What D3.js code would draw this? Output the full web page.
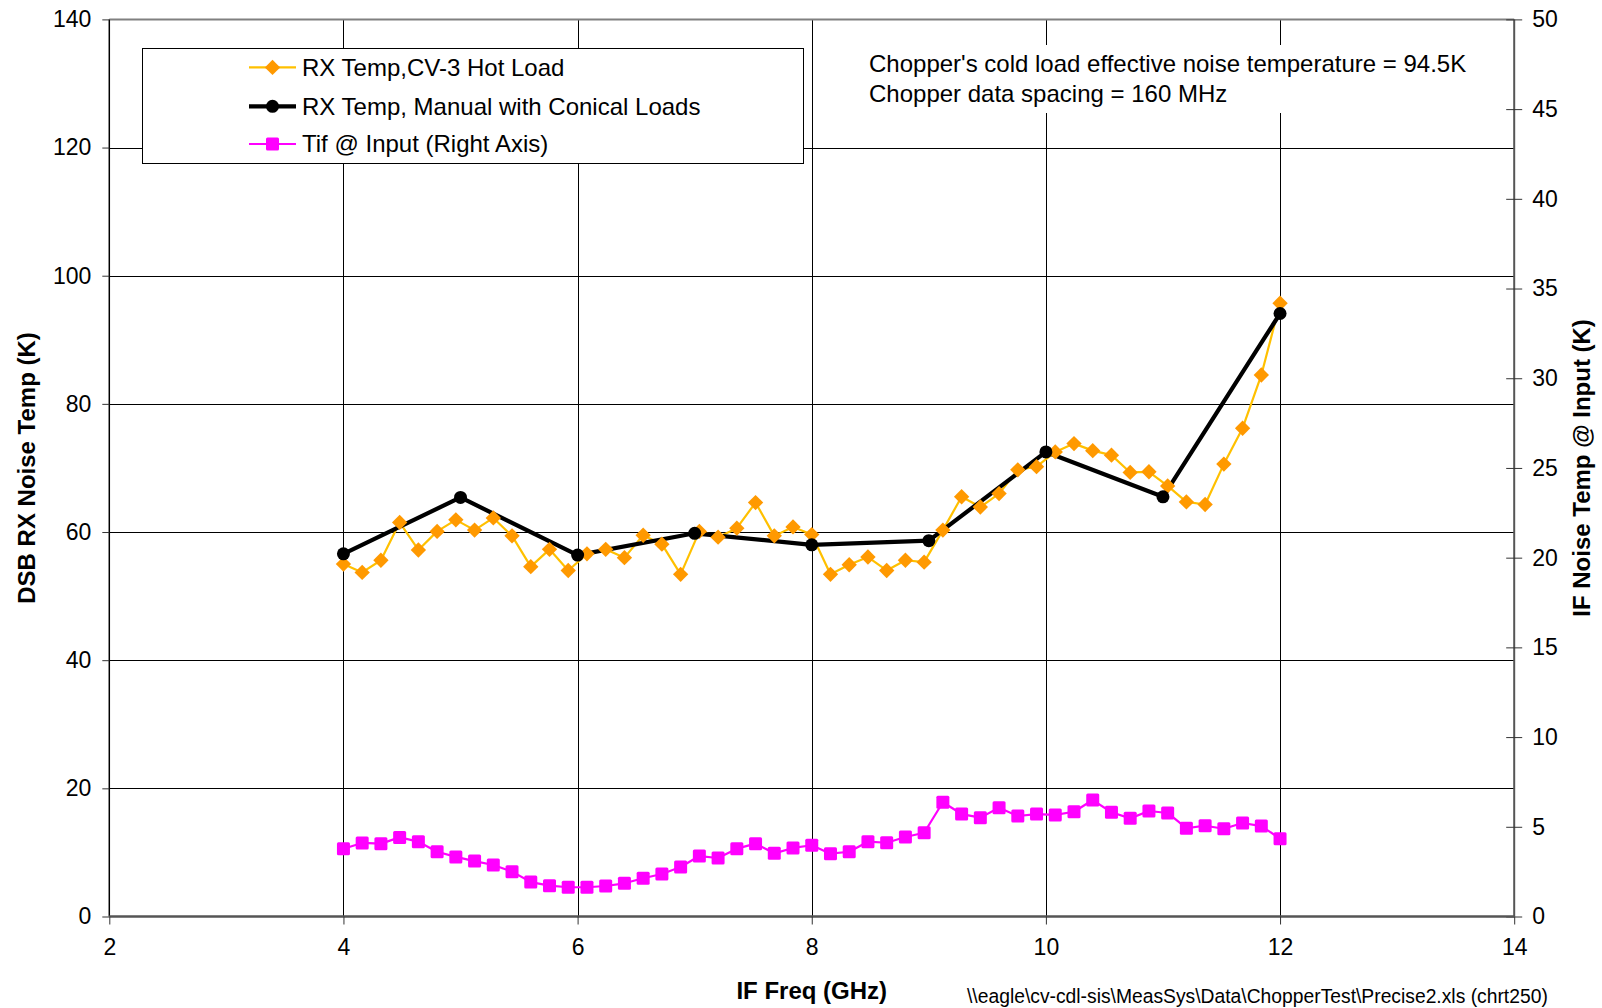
<!DOCTYPE html>
<html>
<head>
<meta charset="utf-8">
<script src="https://cdn.jsdelivr.net/npm/d3@7"></script>
<style>
  html, body { margin: 0; padding: 0; background: #fff; }
  svg { display: block; font-family: "Liberation Sans", Arial, sans-serif; }
</style>
</head>
<body>
<svg id="chart" width="1602" height="1008"></svg>
<script>
// ---------------- DATA ----------------
const xTicks = [2, 4, 6, 8, 10, 12, 14];
const yLeftTicks = [0, 20, 40, 60, 80, 100, 120, 140];
const yRightTicks = [0, 5, 10, 15, 20, 25, 30, 35, 40, 45, 50];

// Chopper data frequencies (GHz), 160 MHz spacing
const chopperFreq = [4.00, 4.16, 4.32, 4.48, 4.64, 4.80, 4.96, 5.12, 5.28, 5.44,
  5.60, 5.76, 5.92, 6.08, 6.24, 6.40, 6.56, 6.72, 6.88, 7.04,
  7.20, 7.36, 7.52, 7.68, 7.84, 8.00, 8.16, 8.32, 8.48, 8.64,
  8.80, 8.96, 9.12, 9.28, 9.44, 9.60, 9.76, 9.92, 10.08, 10.24,
  10.40, 10.56, 10.72, 10.88, 11.04, 11.20, 11.36, 11.52, 11.68, 11.84, 12.00];

// RX Temp, CV-3 Hot Load (left axis, K)
const rxHotLoad = [55.0, 53.7, 55.6, 61.5, 57.2, 60.1, 61.9, 60.3, 62.2, 59.4,
  54.6, 57.3, 54.0, 56.6, 57.3, 56.0, 59.5, 58.1, 53.4, 60.1,
  59.2, 60.6, 64.6, 59.4, 60.8, 59.6, 53.4, 54.9, 56.1, 54.0,
  55.6, 55.3, 60.3, 65.5, 63.9, 66.0, 69.7, 70.2, 72.5, 73.8,
  72.7, 72.0, 69.3, 69.4, 67.2, 64.7, 64.3, 70.6, 76.2, 84.5, 95.7];

// Tif @ Input (right axis, K)
const tifInput = [3.78, 4.10, 4.06, 4.41, 4.17, 3.61, 3.32, 3.09, 2.87, 2.50,
  1.92, 1.72, 1.63, 1.63, 1.70, 1.85, 2.13, 2.37, 2.76, 3.37,
  3.26, 3.78, 4.06, 3.52, 3.82, 3.97, 3.50, 3.61, 4.17, 4.11,
  4.43, 4.67, 6.37, 5.71, 5.51, 6.06, 5.60, 5.71, 5.66, 5.84,
  6.49, 5.81, 5.47, 5.88, 5.77, 4.92, 5.06, 4.89, 5.21, 5.04, 4.34];

// RX Temp, Manual with Conical Loads (left axis, K)
const manualFreq = [4, 5, 6, 7, 8, 9, 10, 11, 12];
const rxManual = [56.6, 65.4, 56.4, 59.8, 58.0, 58.65, 72.5, 65.5, 94.1];

const seriesNames = ["RX Temp,CV-3 Hot Load", "RX Temp, Manual with Conical Loads", "Tif @ Input (Right Axis)"];
const annotationLines = ["Chopper's cold load effective noise temperature = 94.5K", "Chopper data spacing = 160 MHz"];
const xTitle = "IF Freq (GHz)";
const yLeftTitle = "DSB RX Noise Temp (K)";
const yRightTitle = "IF Noise Temp @ Input (K)";
const footnote = "\\\\eagle\\cv-cdl-sis\\MeasSys\\Data\\ChopperTest\\Precise2.xls (chrt250)";

// ---------------- LAYOUT ----------------
const svg = d3.select("#chart");
const L = 109.3, R = 1514.2, T = 19.4, B = 916.5;

const x = d3.scaleLinear().domain([2, 14]).range([L, R]);
const yL = d3.scaleLinear().domain([0, 140]).range([B, T]);
const yR = d3.scaleLinear().domain([0, 50]).range([B, T]);

const ORANGE_LINE = "#FFC000", ORANGE_MK = "#FF9900", MAGENTA = "#FF00FF";

// gridlines
const grid = svg.append("g");
grid.selectAll("line.h").data(yLeftTicks.filter(d => d > 0 && d < 140)).join("line")
  .attr("x1", L).attr("x2", R)
  .attr("y1", d => Math.round(yL(d)) + 0.5).attr("y2", d => Math.round(yL(d)) + 0.5)
  .attr("stroke", "#000").attr("stroke-width", 1);
grid.selectAll("line.v").data(xTicks.filter(d => d > 2 && d < 14)).join("line")
  .attr("y1", T).attr("y2", B)
  .attr("x1", d => Math.round(x(d)) + 0.5).attr("x2", d => Math.round(x(d)) + 0.5)
  .attr("stroke", "#000").attr("stroke-width", 1);

// annotation background (white box hiding gridlines)
svg.append("rect").attr("x", 835).attr("y", 45).attr("width", 645).attr("height", 68).attr("fill", "#fff");

// frame
svg.append("line").attr("x1", L).attr("x2", R).attr("y1", T).attr("y2", T)
  .attr("stroke", "#808080").attr("stroke-width", 2);

// Left axis
const axL = d3.axisLeft(yL).tickValues(yLeftTicks).tickSize(7).tickPadding(11).tickFormat(d3.format("d"));
const gL = svg.append("g").attr("transform", `translate(${L},0)`).call(axL);
// Right axis
const axR = d3.axisRight(yR).tickValues(yRightTicks).tickSize(8).tickPadding(10).tickFormat(d3.format("d"));
const gR = svg.append("g").attr("transform", `translate(${R},0)`).call(axR);
gR.selectAll(".tick line").attr("x1", -8);
// Bottom axis
const axB = d3.axisBottom(x).tickValues(xTicks).tickSize(8).tickPadding(14).tickFormat(d3.format("d"));
const gB = svg.append("g").attr("transform", `translate(0,${B})`).call(axB);

[gL, gR, gB].forEach(g => {
  g.selectAll("text").attr("font-size", 23).attr("fill", "#000")
    .attr("font-family", "'Liberation Sans', Arial, sans-serif");
  g.selectAll(".tick line").attr("stroke", "#333");
});
gL.select(".domain").attr("stroke", "#000").attr("stroke-width", 1.5).attr("d", `M0,${T}V${B}`);
gR.select(".domain").attr("stroke", "#555").attr("stroke-width", 2).attr("d", `M0,${T}V${B}`);
gB.select(".domain").attr("stroke", "#555").attr("stroke-width", 2.5).attr("d", `M${L},0H${R}`);

// ---------------- SERIES ----------------
const hotPts = chopperFreq.map((f, i) => [f, rxHotLoad[i]]);
const manPts = manualFreq.map((f, i) => [f, rxManual[i]]);
const tifPts = chopperFreq.map((f, i) => [f, tifInput[i]]);

const lineL = d3.line().x(d => x(d[0])).y(d => yL(d[1]));
const lineR = d3.line().x(d => x(d[0])).y(d => yR(d[1]));

svg.append("path").datum(hotPts).attr("d", lineL).attr("fill", "none")
  .attr("stroke", ORANGE_LINE).attr("stroke-width", 2.2).attr("stroke-linejoin", "round");
svg.append("path").datum(manPts).attr("d", lineL).attr("fill", "none")
  .attr("stroke", "#000").attr("stroke-width", 4.2).attr("stroke-linejoin", "round");

const diamond = d3.symbol().type(d3.symbolDiamond2).size(150);
svg.append("g").selectAll("path").data(hotPts).join("path")
  .attr("d", diamond)
  .attr("transform", d => `translate(${x(d[0])},${yL(d[1])})`)
  .attr("fill", ORANGE_MK);

svg.append("g").selectAll("circle").data(manPts).join("circle")
  .attr("cx", d => x(d[0])).attr("cy", d => yL(d[1])).attr("r", 6.5).attr("fill", "#000");

svg.append("path").datum(tifPts).attr("d", lineR).attr("fill", "none")
  .attr("stroke", MAGENTA).attr("stroke-width", 2.2).attr("stroke-linejoin", "round");
svg.append("g").selectAll("rect").data(tifPts).join("rect")
  .attr("x", d => x(d[0]) - 6.5).attr("y", d => yR(d[1]) - 6.5)
  .attr("width", 13).attr("height", 13).attr("rx", 1.5).attr("fill", MAGENTA);

// ---------------- LEGEND ----------------
const lg = svg.append("g");
lg.append("rect").attr("x", 142.5).attr("y", 48.5).attr("width", 661).attr("height", 115)
  .attr("fill", "#fff").attr("stroke", "#000").attr("stroke-width", 1);
const rowsY = [67.4, 106.3, 144];
const lx1 = 249, lx2 = 296, lmx = 272.5;
lg.append("line").attr("x1", lx1).attr("x2", lx2).attr("y1", rowsY[0]).attr("y2", rowsY[0])
  .attr("stroke", ORANGE_LINE).attr("stroke-width", 2.2);
lg.append("path").attr("d", diamond).attr("transform", `translate(${lmx},${rowsY[0]})`).attr("fill", ORANGE_MK);
lg.append("line").attr("x1", lx1).attr("x2", lx2).attr("y1", rowsY[1]).attr("y2", rowsY[1])
  .attr("stroke", "#000").attr("stroke-width", 4.2);
lg.append("circle").attr("cx", lmx).attr("cy", rowsY[1]).attr("r", 6.5).attr("fill", "#000");
lg.append("line").attr("x1", lx1).attr("x2", lx2).attr("y1", rowsY[2]).attr("y2", rowsY[2])
  .attr("stroke", MAGENTA).attr("stroke-width", 2.2);
lg.append("rect").attr("x", lmx - 6.5).attr("y", rowsY[2] - 6.5).attr("width", 13).attr("height", 13)
  .attr("rx", 1.5).attr("fill", MAGENTA);
lg.selectAll("text").data(seriesNames).join("text")
  .attr("x", 302).attr("y", (d, i) => rowsY[i]).attr("dy", "0.35em")
  .attr("font-size", 24).attr("fill", "#000").text(d => d);

// ---------------- ANNOTATION ----------------
svg.append("g").selectAll("text").data(annotationLines).join("text")
  .attr("x", 869).attr("y", (d, i) => 63.5 + i * 29.6).attr("dy", "0.35em")
  .attr("font-size", 24).attr("fill", "#000").text(d => d);

// ---------------- TITLES ----------------
svg.append("text").attr("x", (L + R) / 2).attr("y", 991).attr("dy", "0.35em")
  .attr("text-anchor", "middle").attr("font-size", 24).attr("font-weight", "bold").text(xTitle);
svg.append("text").attr("transform", `translate(27,${(T + B) / 2}) rotate(-90)`)
  .attr("text-anchor", "middle").attr("dy", "0.35em")
  .attr("font-size", 24).attr("font-weight", "bold").text(yLeftTitle);
svg.append("text").attr("transform", `translate(1582,${(T + B) / 2}) rotate(-90)`)
  .attr("text-anchor", "middle").attr("dy", "0.35em")
  .attr("font-size", 24).attr("font-weight", "bold").text(yRightTitle);

// footnote (reference shows it right at the bottom edge)
svg.append("text").attr("x", 967).attr("y", 1003).attr("font-size", 19.3).attr("fill", "#000").text(footnote);
</script>
</body>
</html>
